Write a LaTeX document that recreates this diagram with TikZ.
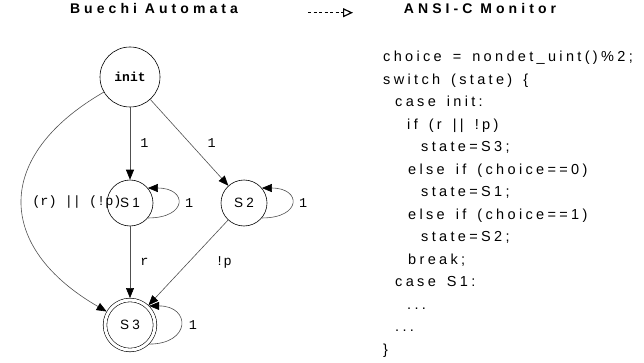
\documentclass[tikz,border=0pt]{standalone}
\usepackage{fontspec}
\setmainfont{Liberation Sans}
\setmonofont{Liberation Mono}
\newfontfamily\spacedsf[LetterSpace=25]{Liberation Sans}
\newfontfamily\codesf[LetterSpace=23,WordSpace=1.5]{Liberation Sans}
\newfontfamily\titlesf[LetterSpace=29,BoldFont={Liberation Sans Bold}]{Liberation Sans}
\usepackage{tikz}
\usetikzlibrary{arrows.meta,positioning}
\definecolor{edgegray}{RGB}{80,80,80}

\begin{document}
\begin{tikzpicture}[x=1pt,y=1pt,
  state/.style={circle,draw=black,line width=0.6pt,minimum size=46pt,
    inner sep=0pt,on grid,font=\spacedsf\fontsize{13.5}{13.5}\selectfont},
  initstate/.style={state,minimum size=60pt,
    font=\ttfamily\bfseries\fontsize{13}{13}\selectfont},
  accept/.style={state,minimum size=50pt,double,double distance=3pt,outer sep=2pt},
  trans/.style={-{Triangle[length=10pt,width=8pt,color=black]},draw=edgegray,line width=0.6pt},
  lbl/.style={font=\ttfamily\fontsize{13.5}{13.5}\selectfont,inner sep=1pt},
  title/.style={font=\titlesf\bfseries\fontsize{14}{14}\selectfont,inner sep=0pt},
  code/.style={font=\codesf\fontsize{14.5}{22.5}\selectfont,align=left,inner sep=0pt},
]
\useasboundingbox (0,0) rectangle (644,362);

% headings
\node[title,anchor=base] (hdBA) at (154,348.7) {Buechi Automata};
\node[title,anchor=base] (hdMon) at (480,348.7) {ANSI-C Monitor};
\coordinate (arrS) at (308,349.3);
\coordinate (arrE) at (353,349.3);
\draw[dashed,line width=1.3pt,dash pattern=on 3pt off 2.5pt,
  -{Triangle[open,length=10pt,width=9pt,line width=1.2pt]}] (arrS) -- (arrE);

% automaton
\node[initstate] (init) at (130,285) {init};
\node[state,below=126pt of init] (S1) {S1};
\node[state,right=114pt of S1] (S2) {S2};
\node[accept,below=122pt of S1] (S3) {S3};

\draw[trans] (init) -- node[lbl,midway,right=9pt]{1} (S1);
\draw[trans] (init) -- node[lbl,midway,right=17pt]{1} (S2);
\draw[trans] (S1) -- node[lbl,midway,right=9pt]{r} (S3);
\draw[trans] (S2) -- node[lbl,midway,right=26pt]{!p} (S3);
\draw[trans] (init) to[out=210,in=150,distance=128pt]
  node[lbl,pos=0.5,right=9pt]{(r) || (!p)} (S3);

% self loops
\draw[trans] (S1.-40) to[out=0,in=0,distance=40pt] node[lbl,right=6pt]{1} (S1.40);
\draw[trans] (S2.-40) to[out=0,in=0,distance=40pt] node[lbl,right=6pt]{1} (S2.40);
\draw[trans] (S3.-45) to[out=0,in=0,distance=42pt] node[lbl,right=7pt]{1} (S3.45);

% generated monitor
\node[code,anchor=north west] (mon) at (383,311) {%
choice = nondet\_uint()\%2;\\
switch (state) \{\\
\hspace*{12pt}case init:\\
\hspace*{24pt}if (r || !p)\\
\hspace*{38pt}state=S3;\\
\hspace*{25pt}else if (choice==0)\\
\hspace*{38pt}state=S1;\\
\hspace*{25pt}else if (choice==1)\\
\hspace*{38pt}state=S2;\\
\hspace*{25pt}break;\\
\hspace*{12pt}case S1:\\
\hspace*{24pt}...\\
\hspace*{12pt}...\\
\}};
\end{tikzpicture}
\end{document}
